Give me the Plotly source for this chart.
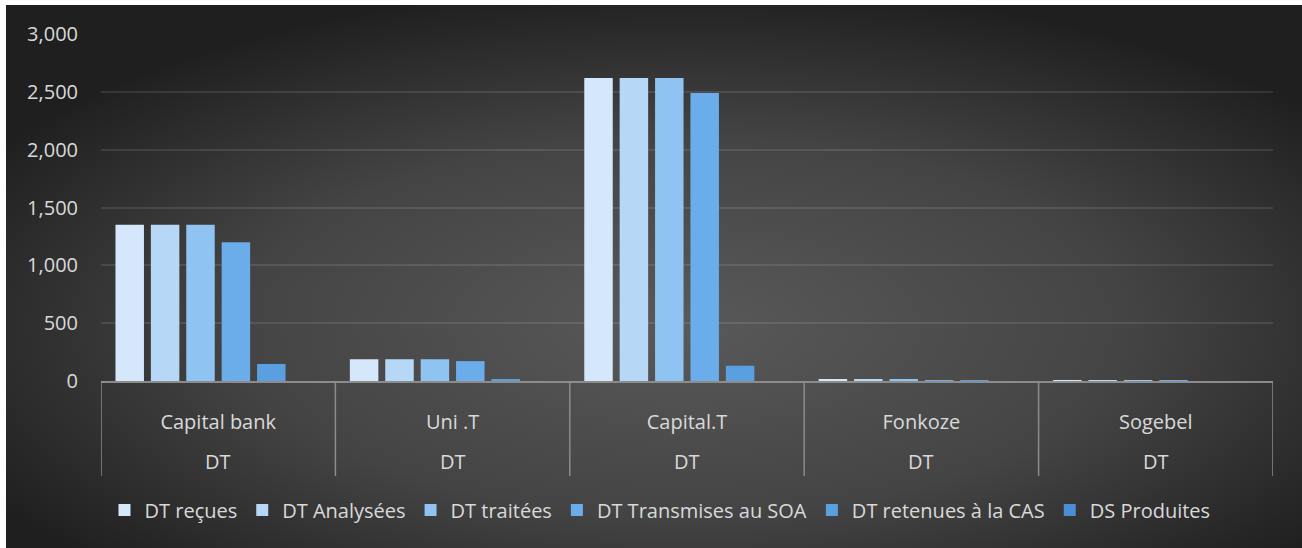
import base64
import plotly.graph_objects as go

# ---- data ----
categories = ["Capital bank", "Uni .T", "Capital.T", "Fonkoze", "Sogebel"]
group_label = "DT"
series_names = ["DT reçues", "DT Analysées", "DT traitées",
                "DT Transmises au SOA", "DT retenues à la CAS", "DS Produites"]
dt_recues = [1350, 188, 2620, 10, 8]
dt_analysees = [1350, 188, 2620, 10, 8]
dt_traitees = [1350, 188, 2620, 10, 8]
dt_transmises = [1200, 172, 2490, 8, 6]
dt_retenues = [147, 12, 132, 6, 0]
ds_produites = [0, 0, 0, 0, 0]
y_ticks = [0, 500, 1000, 1500, 2000, 2500, 3000]

series_values = [dt_recues, dt_analysees, dt_traitees,
                 dt_transmises, dt_retenues, ds_produites]
colors = ["#d4e7fb", "#b7d7f7", "#8fc3f2", "#6aadea", "#5a9fe0", "#4a8fd6"]

FONT = "Open Sans"
TXT = "#d9d9d9"

# plot area geometry (px)
W, H = 1302, 548
L, R, T, B = 101, 29, 34, 167
pw, ph = W - L - R, H - T - B

def px_to_paper_y(py):
    return (H - B - py) / ph

def px_to_paper_x(px):
    return (px - L) / pw

fig = go.Figure()
for name, vals, c in zip(series_names, series_values, colors):
    fig.add_trace(go.Bar(
        name=name, x=categories, y=vals,
        marker=dict(color=c, line=dict(width=0)),
    ))

# background radial gradient as an SVG image
svg = (
    '<svg xmlns="http://www.w3.org/2000/svg" width="1310" height="560" '
    'viewBox="0 0 1310 560" preserveAspectRatio="none">'
    '<defs><radialGradient id="g" cx="0.52" cy="0.58" r="0.62">'
    '<stop offset="0" stop-color="#595959"/>'
    '<stop offset="0.55" stop-color="#444444"/>'
    '<stop offset="1" stop-color="#1f1f1f"/>'
    '</radialGradient></defs>'
    '<rect x="0" y="0" width="1310" height="560" fill="url(#g)"/></svg>'
)
uri = "data:image/svg+xml;base64," + base64.b64encode(svg.encode()).decode()
fig.add_layout_image(dict(
    source=uri, xref="paper", yref="paper",
    x=px_to_paper_x(6), y=px_to_paper_y(5),
    sizex=(W + 10 - 6) / pw, sizey=(H + 10 - 5) / ph,
    xanchor="left", yanchor="top", sizing="stretch", layer="below",
))

# white page strips at top and left
fig.add_shape(type="rect", xref="paper", yref="paper", layer="below",
              x0=px_to_paper_x(-2), x1=px_to_paper_x(6),
              y0=px_to_paper_y(H + 2), y1=px_to_paper_y(-2),
              fillcolor="white", line=dict(width=0))
fig.add_shape(type="rect", xref="paper", yref="paper", layer="below",
              x0=px_to_paper_x(-2), x1=px_to_paper_x(W + 2),
              y0=px_to_paper_y(5), y1=px_to_paper_y(-2),
              fillcolor="white", line=dict(width=0))

# category dividers and second-level labels
div_bottom = px_to_paper_y(476)
for i in range(len(categories) + 1):
    fig.add_shape(type="line", xref="x", yref="paper",
                  x0=i - 0.5, x1=i - 0.5, y0=0, y1=div_bottom,
                  line=dict(color="#8c8c8c", width=1.5))
for cat in categories:
    fig.add_annotation(x=cat, xref="x", y=px_to_paper_y(461), yref="paper",
                       text=group_label, showarrow=False, yanchor="middle",
                       font=dict(family=FONT, size=20, color=TXT))

fig.update_layout(
    width=W, height=H,
    margin=dict(l=L, r=R, t=T, b=B),
    paper_bgcolor="#1f1f1f", plot_bgcolor="rgba(0,0,0,0)",
    barmode="group", bargap=0.094, bargroupgap=0.195,
    font=dict(family=FONT, size=20, color=TXT),
    showlegend=True,
    legend=dict(orientation="h", x=px_to_paper_x(660), xanchor="center",
                y=px_to_paper_y(510), yanchor="middle",
                font=dict(family=FONT, size=20, color=TXT),
                bgcolor="rgba(0,0,0,0)"),
    xaxis=dict(type="category", showline=True, linecolor="#8c8c8c", linewidth=1.5,
               ticks="", showgrid=False, ticklabelstandoff=22,
               tickfont=dict(family=FONT, size=20, color=TXT),
               range=[-0.5, len(categories) - 0.5]),
    yaxis=dict(range=[0, 3000], tickvals=y_ticks, tickformat=",",
               showgrid=True, gridcolor="rgba(255,255,255,0.10)", gridwidth=1.5,
               zeroline=False, showline=False, ticks="", ticklabelstandoff=22,
               tickfont=dict(family=FONT, size=20, color=TXT)),
)

fig.write_html("out.html",
               config={"displayModeBar": False},
               post_script="document.body.style.margin='0px';"
                           "document.body.style.overflow='hidden';"
                           "document.body.style.background='#1f1f1f';"
                           "document.documentElement.style.background='#1f1f1f';")
